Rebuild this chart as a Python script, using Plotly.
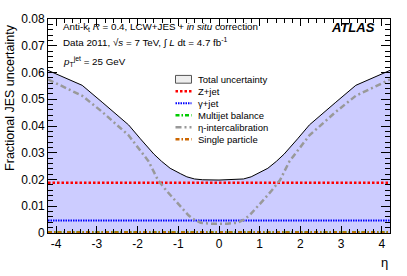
import plotly.graph_objects as go

# ---- data ----
eta_half = [-4.2, -3.36, -2.87, -2.22, -1.93, -1.6, -1.41, -1.2, -0.95, -0.79, -0.6, -0.4, 0.0]
total_half = [0.0608, 0.0552, 0.0489, 0.0404, 0.0352, 0.0295, 0.0268, 0.0242, 0.0222, 0.0210, 0.0202, 0.0199, 0.0198]

eta_ic_half = [-4.2, -3.36, -2.87, -2.22, -1.73, -1.5, -1.3, -1.1, -0.9, -0.75, -0.6, -0.45, -0.2, 0.0]
ic_half = [0.0574, 0.0513, 0.0453, 0.0365, 0.0268, 0.0198, 0.0160, 0.0125, 0.0090, 0.0066, 0.0049, 0.0038, 0.0035, 0.0035]

eta = eta_half + [-e for e in eta_half[-2::-1]]
total = total_half + total_half[-2::-1]
eta_ic = eta_ic_half + [-e for e in eta_ic_half[-2::-1]]
intercal = ic_half + ic_half[-2::-1]

eta_flat = [-4.2, 4.2]
zjet = [0.0188, 0.0188]
gjet = [0.0047, 0.0047]
multijet = [0.0003, 0.0003]
single_particle = [0.0002, 0.0002]

x_ticks = [-4, -3, -2, -1, 0, 1, 2, 3, 4]
y_ticks = [0, 0.01, 0.02, 0.03, 0.04, 0.05, 0.06, 0.07, 0.08]
y_ticktext = ["0", "0.01", "0.02", "0.03", "0.04", "0.05", "0.06", "0.07", "0.08"]

names = ["Total uncertainty", "Z+jet", "γ+jet", "Multijet balance", "η-intercalibration", "Single particle"]
colors = ["#000000", "#ff0000", "#0000ff", "#00cc00", "#999999", "#cc6600"]
dashes = [None, "2.5px,2px", "1.5px,1px", "4px,2px,1.5px,2px", "6px,3px,2px,3px", "4px,2px,1.5px,2px"]
widths = [1, 2.5, 2, 2.5, 2.5, 2.5]

FONT = "Liberation Sans, Arial, Helvetica, sans-serif"

fig = go.Figure()
fig.add_trace(go.Scatter(x=eta, y=total, mode="lines", fill="tozeroy",
                         fillcolor="#ccccff", line=dict(color="#ccccff", width=0),
                         showlegend=False, hoverinfo="skip"))

series = [(eta_flat, zjet), (eta_flat, gjet), (eta_flat, multijet), (eta_ic, intercal), (eta_flat, single_particle)]
for i, (xs, ys) in enumerate(series, start=1):
    fig.add_trace(go.Scatter(x=xs, y=ys, mode="lines", name=names[i],
                             line=dict(color=colors[i], width=widths[i], dash=dashes[i]),
                             showlegend=False))

fig.add_trace(go.Scatter(x=eta, y=total, mode="lines", name=names[0],
                         line=dict(color="#000000", width=1), showlegend=False))

# ---- geometry (window pixels; the page body margin is zeroed below) ----
W, H = 407, 276
PL, PR, PT, PB = 48, 390, 13.5, 233.5          # plot area
ML, MT, MR, MB = PL, PT, W - PR, H - PB
pw, ph = PR - PL, PB - PT


def px(x):
    return (x - PL) / pw


def py(y):
    return (PB - y) / ph


shapes = []
annotations = []
leg_y0 = 75.5
leg_dy = 12.3
for i, nm in enumerate(names):
    yc = leg_y0 + i * leg_dy
    if i == 0:
        shapes.append(dict(type="rect", xref="paper", yref="paper",
                           x0=px(175.5), x1=px(191.5), y0=py(yc + 4), y1=py(yc - 4),
                           fillcolor="#eeeeee", line=dict(color="#555555", width=1)))
    else:
        shapes.append(dict(type="line", xref="paper", yref="paper",
                           x0=px(175.5), x1=px(191.5), y0=py(yc), y1=py(yc),
                           line=dict(color=colors[i], width=widths[i], dash=dashes[i])))
    annotations.append(dict(xref="paper", yref="paper", x=px(196), y=py(yc),
                            xanchor="left", yanchor="middle", showarrow=False,
                            text=nm, font=dict(family=FONT, size=9.5, color="#000")))

annotations += [
    dict(xref="paper", yref="paper", x=px(61), y=py(21.5), xanchor="left", yanchor="middle",
         showarrow=False, font=dict(family=FONT, size=9.8, color="#000"),
         text="Anti-k<sub>t</sub> <i>R</i> = 0.4, LCW+JES + <i>in situ</i> correction"),
    dict(xref="paper", yref="paper", x=px(61), y=py(37), xanchor="left", yanchor="middle",
         showarrow=False, font=dict(family=FONT, size=9.8, color="#000"),
         text="Data 2011, √<i>s</i> = 7 TeV, ∫ <i>L</i> dt = 4.7 fb<sup>-1</sup>"),
    dict(xref="paper", yref="paper", x=px(61), y=py(57), xanchor="left", yanchor="middle",
         showarrow=False, font=dict(family=FONT, size=9.8, color="#000"),
         text="<i>p</i><sub>T</sub><sup>jet</sup> = 25 GeV"),
    dict(xref="paper", yref="paper", x=px(377), y=py(22), xanchor="right", yanchor="middle",
         showarrow=False, font=dict(family=FONT, size=13, color="#000"),
         text="<b><i>ATLAS</i></b>"),
    dict(xref="paper", yref="paper", x=px(384), y=py(264), xanchor="center", yanchor="middle",
         showarrow=False, font=dict(family=FONT, size=13, color="#000"), text="η"),
    dict(xref="paper", yref="paper", x=px(10), y=py(17), xanchor="center", yanchor="top",
         showarrow=False, textangle=-90, font=dict(family=FONT, size=12.5, color="#000"),
         text="Fractional JES uncertainty"),
]

fig.update_layout(
    width=W, height=H,
    margin=dict(l=ML, r=MR, t=MT, b=MB, pad=0),
    paper_bgcolor="white", plot_bgcolor="white",
    showlegend=False,
    shapes=shapes, annotations=annotations,
    font=dict(family=FONT, size=12, color="#000"),
)
fig.update_xaxes(range=[-4.2, 4.2], tickvals=x_ticks, ticktext=[str(v) for v in x_ticks],
                 ticks="inside", ticklen=7, tickcolor="#000", tickwidth=1,
                 showline=True, linecolor="#000", linewidth=1, mirror="allticks",
                 showgrid=False, zeroline=False,
                 minor=dict(dtick=0.2, ticks="inside", ticklen=4, tickcolor="#000", showgrid=False),
                 tickfont=dict(family=FONT, size=12))
fig.update_yaxes(range=[0, 0.08], tickvals=y_ticks, ticktext=y_ticktext,
                 ticks="inside", ticklen=9, tickcolor="#000", tickwidth=1,
                 showline=True, linecolor="#000", linewidth=1, mirror="allticks",
                 showgrid=False, zeroline=False,
                 minor=dict(dtick=0.002, ticks="inside", ticklen=5, tickcolor="#000", showgrid=False),
                 tickfont=dict(family=FONT, size=12))

fig.write_html("out.html", config={"displayModeBar": False},
               post_script="document.body.style.margin='0';")
